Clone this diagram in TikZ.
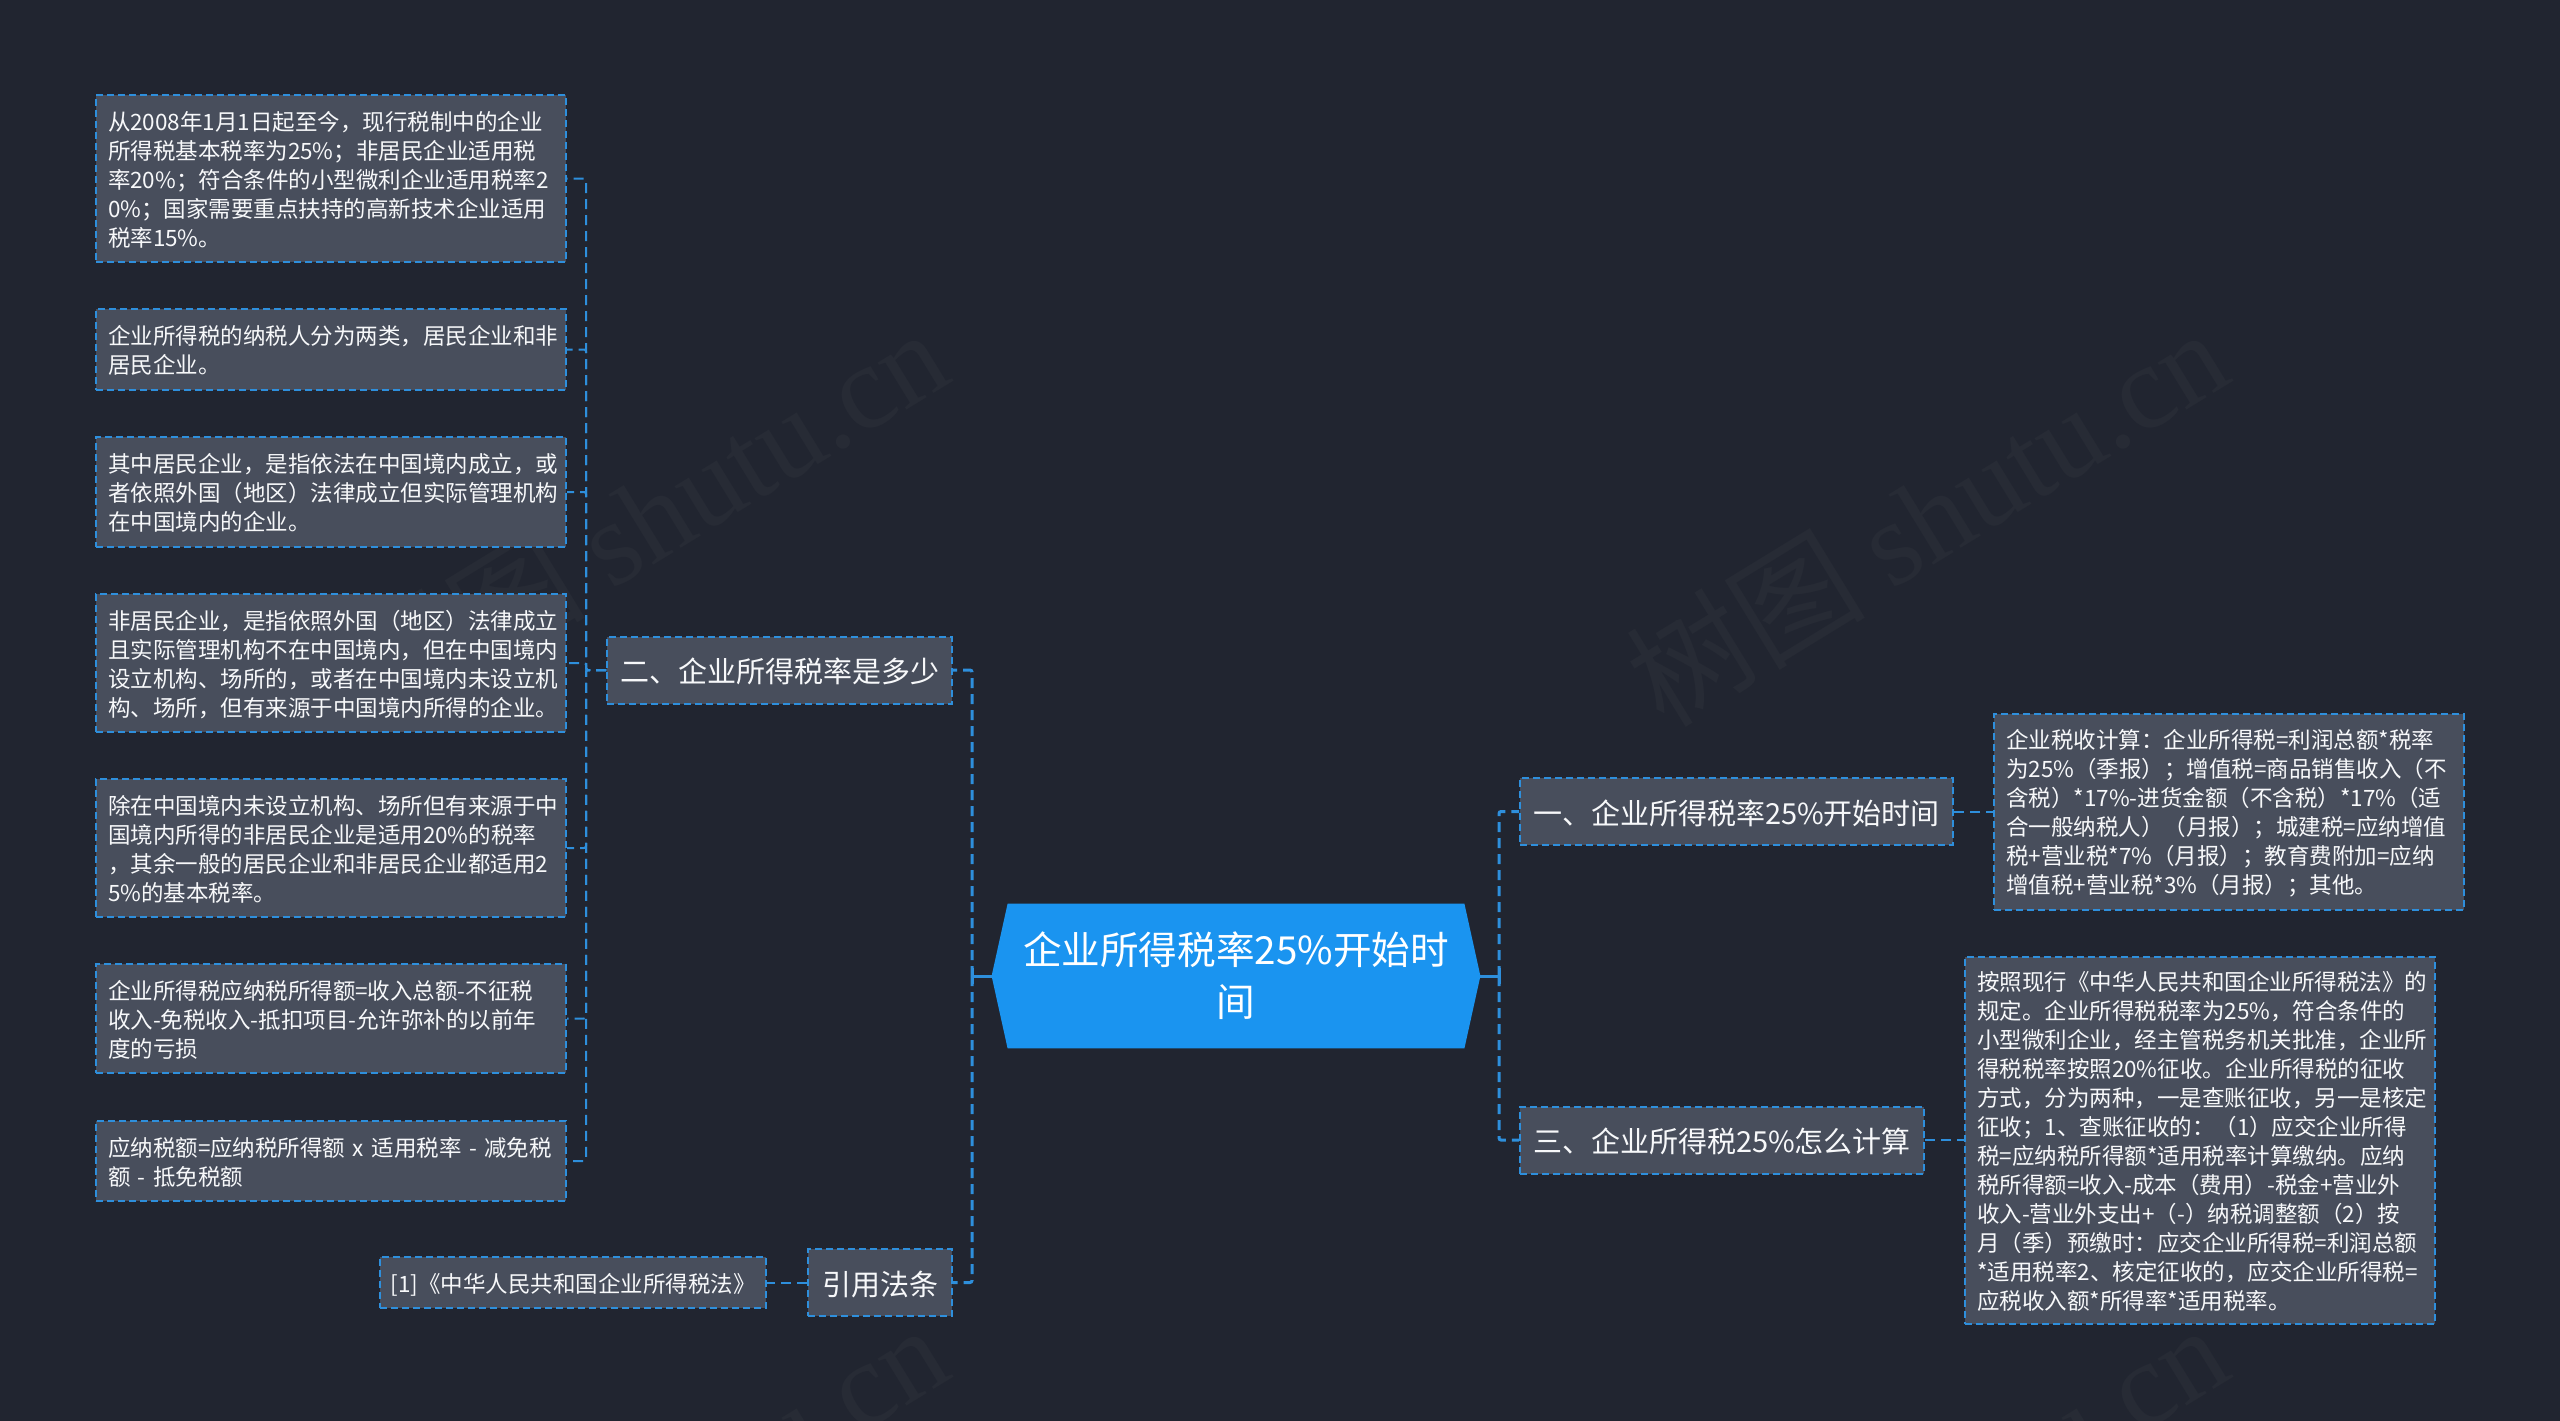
\documentclass[tikz,border=0pt]{standalone}
\usepackage{fontspec}
\setmainfont{Noto Sans CJK SC}
\newfontfamily\marklatin{Liberation Serif}
\definecolor{pagebg}{HTML}{212530}
\definecolor{boxfill}{HTML}{484E5C}
\definecolor{linkblue}{HTML}{2E8FDC}
\definecolor{rootblue}{HTML}{1A94F0}
\definecolor{markgray}{HTML}{272B35}
\definecolor{textwhite}{HTML}{F7F8FA}
\tikzstyle{box}=[draw=linkblue, fill=boxfill, line width=1pt, dash pattern=on 3.5pt off 2pt, text=textwhite, inner xsep=6pt, inner ysep=0pt]
\tikzstyle{leaf}=[box, text width=223pt, align=left, font=\fontsize{11.25}{14.5}\selectfont, execute at begin node={\rule{0pt}{10.8pt}}]
\tikzstyle{branch}=[box, align=center, inner xsep=0pt, minimum height=33.5pt, text height=12.5pt, text depth=0pt, font=\fontsize{14.5}{18}\selectfont]
\tikzstyle{rootnode}=[inner sep=0pt, minimum width=244pt, minimum height=72pt]
\tikzstyle{roottitle}=[text=white, inner sep=0pt, align=center, font=\fontsize{19.3}{26}\selectfont]
\tikzstyle{link}=[draw=linkblue, line width=1pt, dash pattern=on 5pt off 3pt, rounded corners=1pt]
\tikzstyle{rootlink}=[link, line width=1.5pt]
\tikzstyle{watermark}=[text=markgray, rotate=31.5, inner sep=0pt, font=\fontsize{60}{68}\selectfont]

\begin{document}
\begin{tikzpicture}[x=0.5pt, y=-0.5pt]
        \useasboundingbox (0, 0) rectangle (2560, 1420);
        \clip (-6, -6) rectangle (2566, 1426);
        \fill[pagebg] (-6, -6) rectangle (2566, 1426);

        % Faint marks behind everything.
        \foreach \markname/\markx/\marky in {wa/646/516, wb/1926/516, wc/646/1512, wd/1926/1512}
            \node[watermark] (\markname) at (\markx, \marky) {树图 {\marklatin shutu.cn}};

        \node[rootnode] (root) at (1236, 976) {};
        \fill[rootblue] (root.west) -- ([xshift=8pt]root.north west) -- ([xshift=-8pt]root.north east) -- (root.east) -- ([xshift=-8pt]root.south east) -- ([xshift=8pt]root.south west) -- cycle;
        \node[roottitle] (roottext) at (root) {企业所得税率25\%开始时\\间};

        % Left side.
        \node[branch, minimum width=172.5pt] (ltwo) at (779.5, 670) {二、企业所得税率是多少};
        \node[branch, minimum width=72pt] (lcite) at (880, 1282.5) {引用法条};
        \node[box, font=\fontsize{11.25}{14.5}\selectfont, minimum width=193pt, minimum height=25.5pt, inner xsep=0pt, text height=10pt, text depth=0pt] (lcitetext) at (573, 1282.5) {[1]《中华人民共和国企业所得税法》};

        \node[leaf, minimum height=83.5pt] (leafa) at (331, 178.5) {从2008年1月1日起至今，现行税制中的企业\\所得税基本税率为25\%；非居民企业适用税\\率20\%；符合条件的小型微利企业适用税率2\\0\%；国家需要重点扶持的高新技术企业适用\\税率15\%。};
        \node[leaf, minimum height=40.5pt] (leafb) at (331, 349.5) {企业所得税的纳税人分为两类，居民企业和非\\居民企业。};
        \node[leaf, minimum height=55pt] (leafc) at (331, 492) {其中居民企业，是指依法在中国境内成立，或\\者依照外国（地区）法律成立但实际管理机构\\在中国境内的企业。};
        \node[leaf, minimum height=69pt] (leafd) at (331, 663) {非居民企业，是指依照外国（地区）法律成立\\且实际管理机构不在中国境内，但在中国境内\\设立机构、场所的，或者在中国境内未设立机\\构、场所，但有来源于中国境内所得的企业。};
        \node[leaf, minimum height=69pt] (leafe) at (331, 848) {除在中国境内未设立机构、场所但有来源于中\\国境内所得的非居民企业是适用20\%的税率\\，其余一般的居民企业和非居民企业都适用2\\5\%的基本税率。};
        \node[leaf, minimum height=54.5pt] (leaff) at (331, 1018.5) {企业所得税应纳税所得额=收入总额-不征税\\收入-免税收入-抵扣项目-允许弥补的以前年\\度的亏损};
        \node[leaf, minimum height=40pt] (leafg) at (331, 1161) {应纳税额=应纳税所得额 x 适用税率 - 减免税\\额 - 抵免税额};

        % Right side.
        \node[branch, minimum width=216.5pt] (rone) at (1736.5, 811.5) {一、企业所得税率25\%开始时间};
        \node[branch, minimum width=202pt] (rthree) at (1722, 1140) {三、企业所得税25\%怎么计算};
        \node[leaf, minimum height=98pt] (ronetext) at (2229, 811.5) {企业税收计算：企业所得税=利润总额*税率\\为25\%（季报）；增值税=商品销售收入（不\\含税）*17\%-进货金额（不含税）*17\%（适\\合一般纳税人）（月报）；城建税=应纳增值\\税+营业税*7\%（月报）；教育费附加=应纳\\增值税+营业税*3\%（月报）；其他。};
        \node[leaf, minimum height=183.5pt] (rthreetext) at (2200, 1140) {按照现行《中华人民共和国企业所得税法》的\\规定。企业所得税税率为25\%，符合条件的\\小型微利企业，经主管税务机关批准，企业所\\得税税率按照20\%征收。企业所得税的征收\\方式，分为两种，一是查账征收，另一是核定\\征收；1、查账征收的：（1）应交企业所得\\税=应纳税所得额*适用税率计算缴纳。应纳\\税所得额=收入-成本（费用）-税金+营业外\\收入-营业外支出+（-）纳税调整额（2）按\\月（季）预缴时：应交企业所得税=利润总额\\{}*适用税率2、核定征收的，应交企业所得税=\\应税收入额*所得率*适用税率。};

        \coordinate (ljoin) at (972, 976);
        \coordinate (rjoin) at (1499, 976);
        \coordinate (ltrunk) at (586, 670);

        \draw[rootlink, solid] (root.west) -- (ljoin);
        \draw[rootlink, solid] ([yshift=-4pt]ljoin) -- ([yshift=4pt]ljoin);
        \draw[rootlink, solid] (root.east) -- (rjoin);
        \draw[rootlink, solid] ([yshift=-4pt]rjoin) -- ([yshift=4pt]rjoin);
        \draw[rootlink] (ljoin) |- (ltwo.east);
        \draw[rootlink] (ljoin) |- (lcite.east);
        \draw[rootlink] (rjoin) |- (rone.west);
        \draw[rootlink] (rjoin) |- (rthree.west);

        \foreach \leafname in {leafa, leafb, leafc, leafd, leafe, leaff, leafg}
            \draw[link] (ltwo.west) -- (ltrunk) |- (\leafname.east);

        \draw[link] (rone.east) -- (ronetext.west);
        \draw[link] (rthree.east) -- (rthreetext.west);
        \draw[link] (lcite.west) -- (lcitetext.east);
    \end{tikzpicture}
\end{document}
